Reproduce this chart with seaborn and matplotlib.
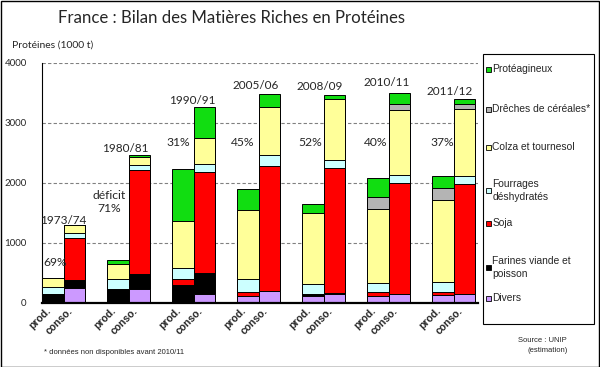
import matplotlib
matplotlib.use("Agg")
import matplotlib.pyplot as plt
import seaborn as sns
import pandas as pd
import numpy as np
from matplotlib.patches import Rectangle

# ---------------- data ----------------
years = ["1973/74", "1980/81", "1990/91", "2005/06", "2008/09", "2010/11", "2011/12"]
bar_kinds = ["prod.", "conso."]
series_names = ["Divers", "Farines viande et\npoisson", "Soja", "Fourrages\ndéshydratés",
                "Colza et tournesol", "Drêches de céréales*", "Protéagineux"]
series_colors = ["#cc99ff", "#000000", "#ff0000", "#ccffff", "#ffff99", "#b4b4b4", "#11dd11"]

# bar order: 1973 prod, 1973 conso, 1980 prod, 1980 conso, ...
divers   = [0, 250, 0, 240, 0, 155, 120, 200, 110, 155, 120, 155, 135, 145]
farines  = [150, 130, 240, 240, 305, 350, 0, 0, 35, 20, 0, 0, 0, 0]
soja     = [0, 710, 0, 1740, 90, 1680, 70, 2090, 0, 2080, 65, 1850, 55, 1845]
fourrages = [110, 85, 155, 85, 195, 130, 215, 185, 165, 135, 155, 135, 165, 135]
colza    = [150, 120, 260, 130, 780, 430, 1150, 800, 1190, 1015, 1220, 1085, 1365, 1110]
dreches  = [0, 0, 0, 0, 0, 0, 0, 0, 0, 0, 210, 100, 200, 90]
proteag  = [0, 0, 65, 40, 870, 515, 350, 210, 145, 55, 320, 180, 200, 80]

deficit_labels = ["69%", "déficit\n71%", "31%", "45%", "52%", "40%", "37%"]
year_label_y = [1383, 2567, 3383, 3617, 3600, 3667, 3533]
deficit_label_y = [667, 1683, 2667, 2667, 2667, 2667, 2667]

# ---------------- build table ----------------
layers = [divers, farines, soja, fourrages, colza, dreches, proteag]
xpos = []
for g in range(len(years)):
    xpos += [3 * g, 3 * g + 1]
rows = []
cum = np.zeros(len(xpos))
for name, vals in zip(series_names, layers):
    cum = cum + np.array(vals, dtype=float)
    for i, x in enumerate(xpos):
        rows.append({"x": x, "series": name, "cum": cum[i],
                     "kind": bar_kinds[i % 2]})
df = pd.DataFrame(rows)

# ---------------- figure ----------------
sns.set_style("white")
plt.rcParams["font.family"] = ["Lato", "DejaVu Sans"]
W, H = 600, 367
fig = plt.figure(figsize=(W / 100, H / 100), dpi=100)
ax = fig.add_axes([42 / W, 1 - 303 / H, (478 - 42) / W, (303 - 63) / H])

for name, col in reversed(list(zip(series_names, series_colors))):
    sub = df[df["series"] == name]
    sns.barplot(data=sub, x="x", y="cum", native_scale=True, width=1,
                color=col, saturation=1, edgecolor="black", linewidth=0.7,
                errorbar=None, ax=ax, zorder=3)

ax.set_xlim(-0.5, 19.62)
ax.set_ylim(0, 4000)
ax.set_yticks([0, 1000, 2000, 3000, 4000])
ax.set_yticklabels(["0", "1000", "2000", "3000", "4000"], fontsize=7)
ax.set_xlabel("")
ax.set_ylabel("")
ax.yaxis.grid(True, linestyle=(0, (3, 2)), color="#808080", linewidth=0.8)
ax.xaxis.grid(False)
ax.set_axisbelow(True)
for s in ["top", "right"]:
    ax.spines[s].set_visible(False)
ax.spines["left"].set_linewidth(0.8)
ax.spines["left"].set_color("black")
ax.spines["bottom"].set_linewidth(1.6)
ax.spines["bottom"].set_color("black")
ax.spines["bottom"].set_zorder(5)

# ticks
ax.set_xticks([k - 0.5 for k in range(21)])
ax.set_xticklabels([])
ax.tick_params(axis="x", which="major", length=3, width=0.7, direction="out", color="black")
ax.set_xticks(xpos, minor=True)
ax.set_xticklabels([bar_kinds[i % 2] for i in range(len(xpos))], minor=True,
                   rotation=45, ha="right", va="top", fontsize=7.5, fontweight="bold",
                   family="Liberation Sans")
ax.tick_params(axis="x", which="minor", length=0, pad=2)
ax.tick_params(axis="y", length=4, width=0.7, direction="out", color="black", pad=7)

# annotations
year_dx = [0.5, 0.35, 0.45, 0.35, 0.3, 0.4, 0.3]
def_dx = [0.1, -0.42, -0.22, -0.22, -0.13, -0.1, -0.04]
for g, (yl, dl) in enumerate(zip(years, deficit_labels)):
    ax.text(3 * g + year_dx[g], year_label_y[g], yl, ha="center", va="center",
            fontsize=8.5, zorder=6)
    ax.text(3 * g + def_dx[g], deficit_label_y[g], dl, ha="center", va="center",
            fontsize=8.7, zorder=6, linespacing=1.2)

# titles / texts
fig.text(231 / W, 1 - 18 / H, "France : Bilan des Matières Riches en Protéines",
         ha="center", va="center", fontsize=12.1)
fig.text(12 / W, 1 - 45 / H, "Protéines (1000 t)", ha="left", va="center", fontsize=7.5)
fig.text(44 / W, 1 - 353 / H, "* données non disponibles avant 2010/11", ha="left",
         va="center", fontsize=5.5, family="Liberation Sans")
fig.text(567 / W, 1 - 340 / H, "Source : UNIP", ha="right", va="center",
         fontsize=5.5, family="Liberation Sans")
fig.text(568 / W, 1 - 351 / H, "(estimation)", ha="right", va="center",
         fontsize=5.5, family="Liberation Sans")

# legend (manual)
fig.add_artist(Rectangle((483 / W, 1 - 324 / H), 111 / W, 270 / H, transform=fig.transFigure,
                         facecolor="white", edgecolor="black", linewidth=0.8))
leg_y = [69, 109, 147, 190.5, 223, 267.5, 298]
leg_order = list(range(len(series_names)))[::-1]
for yy, idx in zip(leg_y, leg_order):
    fig.add_artist(Rectangle((486 / W, 1 - (yy + 2.5) / H), 5 / W, 5 / H,
                             transform=fig.transFigure, facecolor=series_colors[idx],
                             edgecolor="black", linewidth=0.6))
    fig.text(492.5 / W, 1 - yy / H, series_names[idx], ha="left", va="center",
             fontsize=7.4, family="Liberation Sans", linespacing=1.3)

# outer frame
fig.add_artist(Rectangle((0.5 / W, 0.5 / H), 598.5 / W, 365.5 / H, transform=fig.transFigure,
                         facecolor="none", edgecolor="black", linewidth=1))

fig.savefig("out.png", dpi=100)
